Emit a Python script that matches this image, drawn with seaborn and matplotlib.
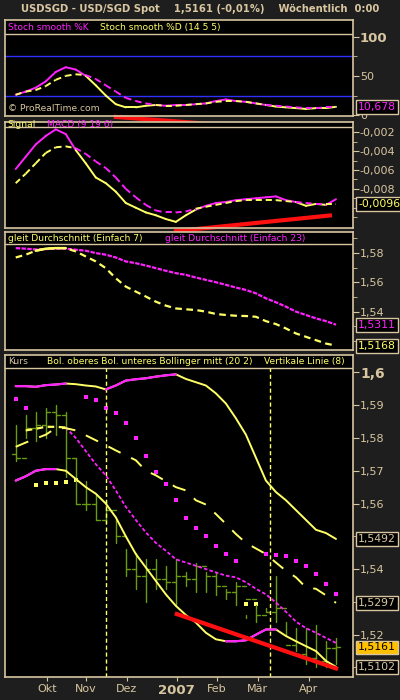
import numpy as np
import pandas as pd
import matplotlib
matplotlib.use("Agg")
import matplotlib.pyplot as plt
import seaborn as sns

sns.set_style("dark")
plt.rcParams['font.family'] = ['DejaVu Sans']

# weekly bars, index 0..32
weeks = np.arange(33)
month_pos = [3.1, 7.0, 11.1, 16.1, 20.1, 24.2, 29.3]
month_lab = ['Okt', 'Nov', 'Dez', '2007', 'Feb', 'Mär', 'Apr']

stoch_k = [26, 30, 35, 43, 55, 61, 58, 50, 38, 25, 14, 10, 10, 12, 13, 12, 13, 13, 14, 15, 18, 20,
           18, 17, 15, 13, 11, 10, 9, 8, 9, 9, 10.678]
stoch_d = [26, 30, 32, 37, 45, 50, 52, 51, 46, 38, 30, 22, 18, 15, 13, 12, 12, 13, 14, 15, 17, 18,
           18, 17, 15, 13, 12, 11, 10, 9, 9, 10, 10]

macd = [-0.0059, -0.0046, -0.0033, -0.0024, -0.0017, -0.0022, -0.0039, -0.0053, -0.0068, -0.0074,
        -0.0083, -0.0095, -0.0100, -0.0105, -0.0108, -0.0112, -0.0115, -0.0108, -0.0102, -0.0098,
        -0.0095, -0.0094, -0.0092, -0.0091, -0.0090, -0.0089, -0.0088, -0.0092, -0.0094, -0.0098,
        -0.0096, -0.0097, -0.0091]
signal = [-0.0074, -0.0064, -0.0053, -0.0042, -0.0036, -0.0035, -0.0037, -0.0043, -0.0051, -0.0058,
          -0.0068, -0.0080, -0.0089, -0.0097, -0.0103, -0.0105, -0.0105, -0.0104, -0.0101, -0.0099,
          -0.0097, -0.0095, -0.0093, -0.0092, -0.0092, -0.0092, -0.0092, -0.0093, -0.0094, -0.0095,
          -0.0096, -0.0096, -0.0096]

sma7 = [1.5770, 1.5789, 1.5816, 1.5830, 1.5834, 1.5834, 1.5811, 1.5777, 1.5743, 1.5697, 1.5628,
        1.5571, 1.5537, 1.5503, 1.5468, 1.5441, 1.5422, 1.5416, 1.5411, 1.5400, 1.5384, 1.5377,
        1.5372, 1.5370, 1.5365, 1.5335, 1.5315, 1.5285, 1.5251, 1.5228, 1.5205, 1.5182, 1.5168]
sma23 = [1.5834, 1.5830, 1.5825, 1.5827, 1.5830, 1.5830, 1.5823, 1.5816, 1.5800, 1.5789, 1.5770,
         1.5743, 1.5731, 1.5715, 1.5697, 1.5679, 1.5663, 1.5651, 1.5633, 1.5617, 1.5601, 1.5583,
         1.5565, 1.5548, 1.5525, 1.5491, 1.5464, 1.5434, 1.5400, 1.5377, 1.5354, 1.5335, 1.5311]

highs = [1.584, 1.587, 1.588, 1.589, 1.590, 1.588, 1.574, 1.567, 1.563, 1.561, 1.555, 1.546, 1.545,
         1.543, 1.543, 1.541, 1.543, 1.539, 1.542, 1.539, 1.539, 1.534, 1.536, 1.526, 1.529, 1.528,
         1.538, 1.524, 1.522, 1.522, 1.523, 1.518, 1.519]
lows = [1.573, 1.580, 1.579, 1.580, 1.581, 1.568, 1.560, 1.558, 1.555, 1.554, 1.548, 1.538, 1.534,
        1.530, 1.534, 1.534, 1.529, 1.535, 1.533, 1.533, 1.532, 1.531, 1.529, 1.525, 1.524, 1.527,
        1.524, 1.520, 1.515, 1.511, 1.510, 1.510, 1.511]
closes = [1.574, 1.583, 1.584, 1.588, 1.587, 1.574, 1.560, 1.560, 1.555, 1.558, 1.550, 1.540, 1.538,
          1.540, 1.537, 1.536, 1.538, 1.537, 1.541, 1.538, 1.535, 1.533, 1.535, 1.531, 1.526, 1.527,
          1.528, 1.517, 1.514, 1.513, 1.512, 1.516, 1.5161]

bol_up = [1.5958, 1.5958, 1.5956, 1.5961, 1.5963, 1.5966, 1.5964, 1.5960, 1.5957, 1.5948, 1.5960,
          1.5975, 1.5979, 1.5982, 1.5987, 1.5991, 1.5994, 1.5980, 1.5970, 1.5960, 1.5936, 1.5905,
          1.5860, 1.5810, 1.5740, 1.5670, 1.5635, 1.5610, 1.5580, 1.5550, 1.5520, 1.5510, 1.5492]
bol_low = [1.5670, 1.5683, 1.5700, 1.5705, 1.5705, 1.5700, 1.5675, 1.5650, 1.5630, 1.5600, 1.5558,
           1.5500, 1.5446, 1.5405, 1.5364, 1.5323, 1.5288, 1.5260, 1.5237, 1.5206, 1.5186, 1.5180,
           1.5180, 1.5183, 1.5200, 1.5216, 1.5216, 1.5196, 1.5180, 1.5165, 1.5150, 1.5120, 1.5102]
bol_mid = [np.nan, 1.5823, 1.5828, 1.5834, 1.5834, 1.5832, 1.5800, 1.5760, 1.5720, 1.5686, 1.5640,
           1.5590, 1.5550, 1.5512, 1.5480, 1.5456, 1.5430, 1.5420, 1.5410, 1.5400, 1.5390, 1.5380,
           1.5375, 1.5360, 1.5340, 1.5323, 1.5298, 1.5270, 1.5240, 1.5220, 1.5206, 1.5190, 1.5175]
ma_long = [1.5773, 1.5786, 1.5798, 1.5810, 1.5830, 1.5830, 1.5823, 1.5808, 1.5793, 1.5778, 1.5762,
           1.5747, 1.5732, 1.5700, 1.5686, 1.5668, 1.5650, 1.5640, 1.5610, 1.5597, 1.5568, 1.5538,
           1.5507, 1.5480, 1.5463, 1.5446, 1.5420, 1.5395, 1.5375, 1.5344, 1.5340, 1.5320, 1.5297]
sar_hi_idx = [0, 1, 7, 8, 9, 10, 11, 12, 13, 14, 15, 16, 17, 18, 19, 20, 21, 22, 25, 26, 27, 28, 29, 30, 31, 32]
sar_hi = [1.5918, 1.5890, 1.5925, 1.5915, 1.5890, 1.5875, 1.5845, 1.5800, 1.5745, 1.5695, 1.5660,
          1.5610, 1.5555, 1.5525, 1.5500, 1.5470, 1.5445, 1.5425, 1.5445, 1.5443, 1.5440, 1.5425,
          1.5410, 1.5385, 1.5355, 1.5325]
sar_lo_idx = [2, 3, 4, 5, 6, 23, 24]
sar_lo = [1.5658, 1.5662, 1.5664, 1.5667, 1.5672, 1.5295, 1.5295]

BG = '#1e1e1e'
TAN = '#d8c6a0'
YEL = '#ffff66'
MAG = '#ff22ff'
RED = '#ff1010'
HF = 6.6   # header font size

fig = plt.figure(figsize=(4, 7), dpi=100, facecolor=BG)
XL = (-1.07, 33.7)


def px_axes(top, bottom):
    return fig.add_axes([5 / 400, 1 - bottom / 700, 348 / 400, (bottom - top) / 700])


def style(ax, ylim, header_y):
    ax.set_facecolor('black')
    ax.set_xlim(*XL)
    ax.set_ylim(*ylim)
    ax.grid(False)
    for s in ax.spines.values():
        s.set_color(TAN)
        s.set_linewidth(1.2)
    ax.axhline(header_y, color=TAN, lw=1)
    ax.set_xticks([])
    ax.yaxis.tick_right()
    ax.tick_params(axis='y', colors=TAN, labelsize=8, length=4, pad=1, direction='out')
    ax.tick_params(axis='y', which='minor', colors=TAN, length=3)


def fmt(v, d):
    return f"{v:.{d}f}".replace('.', ',')


def two_tone(ax, a, b, ls_a, ls_b, lw=1.4):
    # whichever line is on top is drawn magenta, the lower one yellow
    for i in range(len(a) - 1):
        up = (a[i] + a[i + 1]) >= (b[i] + b[i + 1])
        ax.plot(weeks[i:i + 2], a[i:i + 2], color=MAG if up else YEL, ls=ls_a, lw=lw)
        ax.plot(weeks[i:i + 2], b[i:i + 2], color=YEL if up else MAG, ls=ls_b, lw=lw)


def value_box(ax, y, text, color, face='black'):
    ax.text(1.015, y, text, transform=ax.get_yaxis_transform(), color=color, fontsize=7.8,
            va='center', ha='left', clip_on=False, zorder=10,
            bbox=dict(boxstyle='square,pad=0.18', fc=face, ec=TAN, lw=1))


def header(ax, x, y, text, color):
    ax.text(x, y, text, color=color, fontsize=HF, va='center', ha='left',
            transform=ax.get_yaxis_transform())


fig.text(0.5, 1 - 9 / 700, 'USDSGD - USD/SGD Spot    1,5161 (-0,01%)    Wöchentlich  0:00',
         color=TAN, fontsize=7.2, fontweight='bold', ha='center', va='center')

# panel 1: stochastic
ax1 = px_axes(20, 116)
style(ax1, (-1, 121), 103)
ax1.axhline(75, color='#3030ff', lw=1)
ax1.axhline(25, color='#3030ff', lw=1)
two_tone(ax1, stoch_k, stoch_d, '-', (0, (3, 2)))
ax1.set_yticks([0, 50, 100])
ax1.set_yticklabels(['0', '50', '100'])
ax1.get_yticklabels()[2].set_fontweight('bold')
ax1.get_yticklabels()[2].set_fontsize(9.5)
ax1.set_yticks([25, 75], minor=True)
header(ax1, 0.008, 112, 'Stoch smooth %K', MAG)
header(ax1, 0.272, 112, 'Stoch smooth %D (14 5 5)', YEL)
header(ax1, 0.008, 8, '© ProRealTime.com', TAN)
ax1.plot([9.8, 29.8], [-2, -21], color=RED, lw=3, clip_on=False, solid_capstyle='butt')
value_box(ax1, 10.678, '10,678', MAG)

# panel 2: MACD
ax2 = px_axes(122, 228)
style(ax2, (-0.01215, -0.00092), -0.00142)
two_tone(ax2, macd, signal, '-', (0, (3, 2)))
mt = [-0.002, -0.004, -0.006, -0.008]
ax2.set_yticks(mt)
ax2.set_yticklabels([fmt(v, 3) for v in mt])
ax2.set_yticks([-0.003, -0.005, -0.007, -0.009, -0.010, -0.011], minor=True)
header(ax2, 0.008, -0.00117, 'Signal', YEL)
header(ax2, 0.122, -0.00117, 'MACD (9 19 6)', MAG)
ax2.plot([15.8, 31.6], [-0.0125, -0.0108], color=RED, lw=3, clip_on=False, solid_capstyle='butt')
value_box(ax2, -0.0096, '-0,0096', YEL)

# panel 3: moving averages
ax3 = px_axes(232, 350)
style(ax3, (1.5138, 1.5944), 1.5859)
sns.lineplot(x=weeks, y=sma23, ax=ax3, color=MAG, lw=1.6, ls=(0, (2, 0.6)))
sns.lineplot(x=weeks, y=sma7, ax=ax3, color=YEL, lw=1.6, ls=(0, (3, 2)))
ax3.plot(weeks[2:6], sma7[2:6], color=YEL, lw=1.8)
ax3.set_yticks([1.58, 1.56, 1.54])
ax3.set_yticklabels(['1,58', '1,56', '1,54'])
ax3.set_yticks([1.59, 1.57, 1.55, 1.53, 1.52], minor=True)
header(ax3, 0.008, 1.5902, 'gleit Durchschnitt (Einfach 7)', YEL)
header(ax3, 0.46, 1.5902, 'gleit Durchschnitt (Einfach 23)', MAG)
value_box(ax3, 1.5311, '1,5311', MAG)
value_box(ax3, 1.5168, '1,5168', YEL)

# panel 4: price
ax4 = px_axes(355, 677)
style(ax4, (1.5071, 1.6053), 1.6013)
opens = [closes[0] + 0.001] + closes[:-1]
for i in weeks:
    ax4.plot([i, i], [lows[i], highs[i]], color='#6a9a10', lw=1)
    ax4.plot([i - 0.4, i], [opens[i], opens[i]], color='#6a9a10', lw=1)
    ax4.plot([i, i + 0.4], [closes[i], closes[i]], color='#6a9a10', lw=1)
for xv in [9.0, 25.4]:
    ax4.axvline(xv, color=YEL, ls=(0, (3, 2)), lw=1, ymax=(1.6013 - 1.5071) / (1.6053 - 1.5071))
sns.lineplot(x=weeks, y=bol_up, ax=ax4, color=YEL, lw=1.4)
ax4.plot(weeks[0:6], bol_up[0:6], color=MAG, lw=1.6)
ax4.plot(weeks[9:17], bol_up[9:17], color=MAG, lw=1.6)
sns.lineplot(x=weeks, y=bol_low, ax=ax4, color=YEL, lw=1.4)
ax4.plot(weeks[0:5], bol_low[0:5], color=MAG, lw=1.6)
ax4.plot(weeks[21:27], bol_low[21:27], color=MAG, lw=1.6)
ax4.plot(weeks[5:], bol_mid[5:], color=MAG, lw=1.3, ls=(0, (2, 1.2)))
ax4.plot(weeks[1:6], bol_mid[1:6], color=YEL, lw=1.6, ls=(0, (3, 2)))
ax4.plot(weeks, ma_long, color=YEL, lw=1.4, ls=(0, (7, 6)))
sns.scatterplot(x=sar_hi_idx, y=sar_hi, ax=ax4, color=MAG, marker='s', s=12, linewidth=0)
sns.scatterplot(x=sar_lo_idx, y=sar_lo, ax=ax4, color=YEL, marker='s', s=12, linewidth=0)
ax4.plot([15.9, 32.2], [1.5265, 1.5095], color=RED, lw=3, clip_on=False, solid_capstyle='butt')
pt = [1.6, 1.59, 1.58, 1.57, 1.56, 1.54, 1.52]
ax4.set_yticks(pt)
ax4.set_yticklabels(['1,6'] + [fmt(v, 2) for v in pt[1:]])
ax4.get_yticklabels()[0].set_fontweight('bold')
ax4.get_yticklabels()[0].set_fontsize(10)
ax4.set_yticks([1.55, 1.53, 1.51], minor=True)
header(ax4, 0.008, 1.6033, 'Kurs', TAN)
header(ax4, 0.12, 1.6033, 'Bol. oberes Bol. unteres Bollinger mitt (20 2)', YEL)
header(ax4, 0.745, 1.6033, 'Vertikale Linie (8)', YEL)
value_box(ax4, 1.5492, '1,5492', TAN)
value_box(ax4, 1.5297, '1,5297', TAN)
value_box(ax4, 1.5161, '1,5161', 'black', face='#ffc000')
value_box(ax4, 1.5102, '1,5102', TAN)
ax4.set_xticks(month_pos)
ax4.set_xticklabels(month_lab)
ax4.tick_params(axis='x', colors=TAN, labelsize=8, length=3, pad=2, direction='out', bottom=True)
ax4.get_xticklabels()[3].set_fontweight('bold')
ax4.get_xticklabels()[3].set_fontsize(9.5)

fig.savefig('out.png', dpi=100, facecolor=BG)
